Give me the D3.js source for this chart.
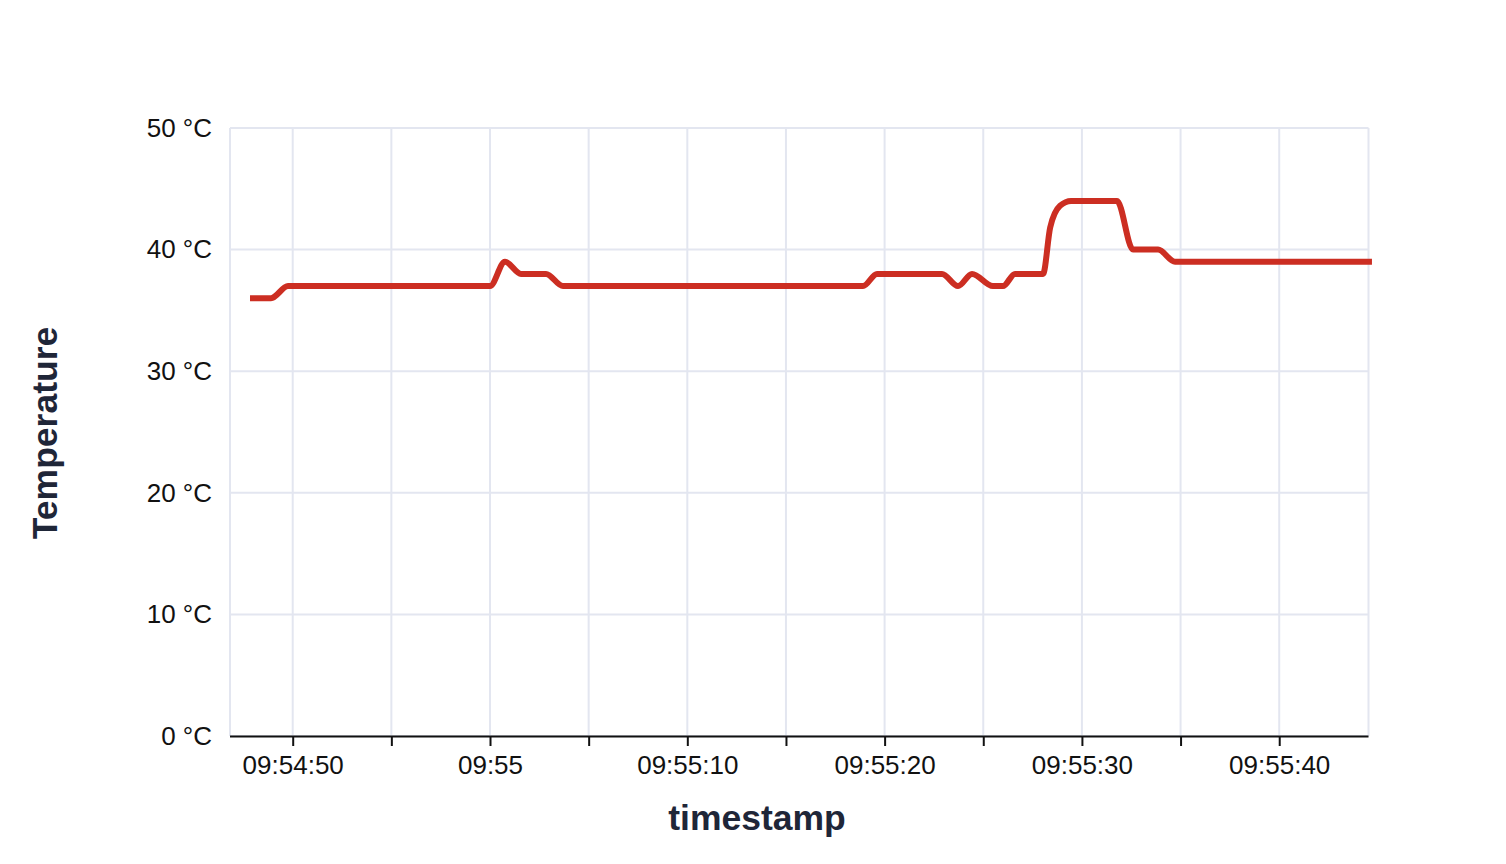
<!DOCTYPE html>
<html>
<head>
<meta charset="utf-8">
<script src="https://cdn.jsdelivr.net/npm/d3@7"></script>
<style>
  html, body { margin: 0; padding: 0; background: #fff; }
  svg { display: block; font-family: "Liberation Sans", Arial, Helvetica, sans-serif; }
</style>
</head>
<body>
<svg id="chart" width="1506" height="864"></svg>
<script>
// ---- data ----
const times = ["09:54:47.836","09:54:48.900","09:54:49.762","09:55:00.000","09:55:00.760","09:55:01.570",
  "09:55:02.838","09:55:03.700","09:55:18.905","09:55:19.615","09:55:22.909","09:55:23.720","09:55:24.430",
  "09:55:25.490","09:55:26.000","09:55:26.610","09:55:28.030","09:55:28.390","09:55:28.890","09:55:29.450",
  "09:55:31.780","09:55:32.590","09:55:33.860","09:55:34.720","09:55:44.700"];
const temps = [36,36,37,37,39,38,38,37,37,38,38,37,38,37,37,38,38,41.8,43.6,44,44,40,40,39,39];
const xDomain = ["09:54:46.822","09:55:44.525"];
const yTicks = [0,10,20,30,40,50];
const xLabel = "timestamp";
const yLabel = "Temperature";

const parse = d3.timeParse("%H:%M:%S.%L");
const data = times.map((t,i) => ({t: parse(t), v: temps[i]}));

const svg = d3.select("#chart");
const L = 230, R = 1368.5, T = 128, B = 736;

const x = d3.scaleTime().domain(xDomain.map(parse)).range([L, R]);
const y = d3.scaleLinear().domain([0,50]).range([B, T]);

const gridColor = "#e3e6f0";
const g = svg.append("g");

// horizontal grid
g.selectAll(".hg").data(yTicks).join("line")
  .attr("x1", L).attr("x2", R)
  .attr("y1", d => y(d)).attr("y2", d => y(d))
  .attr("stroke", gridColor).attr("stroke-width", 2);

// vertical grid (every 5s) + borders
const xTicks5 = x.ticks(d3.timeSecond.every(5));
g.selectAll(".vg").data(xTicks5).join("line")
  .attr("x1", d => x(d)).attr("x2", d => x(d))
  .attr("y1", T).attr("y2", B)
  .attr("stroke", gridColor).attr("stroke-width", 2);
g.selectAll(".border").data([L, R]).join("line")
  .attr("x1", d => d).attr("x2", d => d)
  .attr("y1", T).attr("y2", B)
  .attr("stroke", gridColor).attr("stroke-width", 2);

// y labels
const yAxis = d3.axisLeft(y).tickValues(yTicks).tickSize(0).tickPadding(18)
  .tickFormat(d => d + " °C");
const ya = svg.append("g").attr("transform", `translate(${L},0)`).call(yAxis);
ya.select(".domain").remove();
ya.selectAll("text").attr("font-size", 26).attr("fill", "#111")
  .attr("font-family", "'Liberation Sans', Arial, sans-serif");

// x axis
const fmt = d => d.getSeconds() === 0 ? d3.timeFormat("%H:%M")(d) : d3.timeFormat("%H:%M:%S")(d);
const xAxis = d3.axisBottom(x).tickValues(xTicks5).tickSize(10).tickPadding(10)
  .tickFormat(d => d.getSeconds() % 10 === 0 ? fmt(d) : "");
const xa = svg.append("g").attr("transform", `translate(0,${B})`).call(xAxis);
xa.select(".domain").attr("stroke", "#111").attr("stroke-width", 2)
  .attr("d", `M${L},0.5H${R}`);
xa.selectAll(".tick line").attr("stroke", "#111").attr("stroke-width", 2);
xa.selectAll("text").attr("font-size", 26).attr("fill", "#111")
  .attr("font-family", "'Liberation Sans', Arial, sans-serif");

// line
const line = d3.line().x(d => x(d.t)).y(d => y(d.v)).curve(d3.curveMonotoneX);
svg.append("path").datum(data)
  .attr("fill", "none").attr("stroke", "#cc2e22").attr("stroke-width", 6)
  .attr("stroke-linejoin", "round").attr("d", line);

// titles
svg.append("text").attr("x", 757).attr("y", 830)
  .attr("text-anchor", "middle").attr("font-size", 35.5).attr("font-weight", "bold")
  .attr("fill", "#1f2638").text(xLabel);
svg.append("text").attr("transform", `translate(57,433) rotate(-90)`)
  .attr("text-anchor", "middle").attr("font-size", 35.5).attr("font-weight", "bold")
  .attr("fill", "#1f2638").text(yLabel);
</script>
</body>
</html>
